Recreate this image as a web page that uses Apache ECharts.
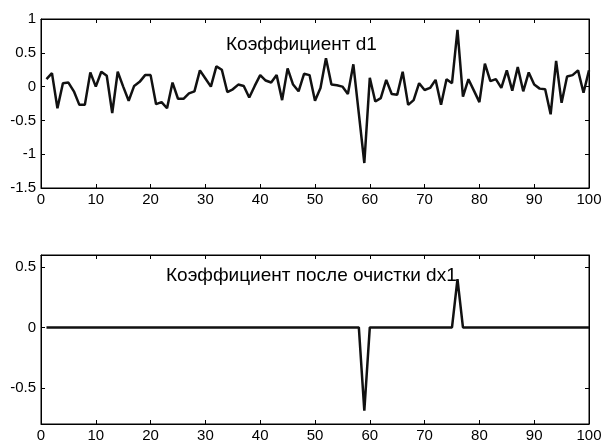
<!DOCTYPE html>
<html>
<head>
<meta charset="utf-8">
<script src="https://cdn.jsdelivr.net/npm/echarts@6/dist/echarts.min.js"></script>
<style>
  html, body { margin: 0; padding: 0; background: #fff; }
  #chart { width: 605px; height: 444px; }
</style>
</head>
<body>
<div id="chart"></div>
<script>
// coefficient d1, samples 1..100
var d1 = [
  0.11, 0.20, -0.32, 0.05, 0.06, -0.07, -0.27, -0.27, 0.21, 0.00,
  0.22, 0.16, -0.39, 0.22, 0.00, -0.21, 0.01, 0.07, 0.17, 0.17,
  -0.26, -0.23, -0.32, 0.06, -0.18, -0.18, -0.10, -0.07, 0.24, 0.12,
  0.00, 0.30, 0.25, -0.08, -0.04, 0.03, 0.01, -0.16, 0.01, 0.17,
  0.09, 0.06, 0.17, -0.20, 0.27, 0.03, -0.07, 0.19, 0.17, -0.21,
  -0.02, 0.42, 0.03, 0.02, 0.00, -0.11, 0.33, -0.40, -1.13, 0.13,
  -0.22, -0.17, 0.10, -0.11, -0.12, 0.22, -0.27, -0.20, 0.05, -0.05,
  -0.02, 0.10, -0.27, 0.11, 0.05, 0.84, -0.15, 0.11, -0.06, -0.23,
  0.34, 0.08, 0.11, -0.02, 0.24, -0.06, 0.29, -0.07, 0.21, 0.03,
  -0.03, -0.04, -0.41, 0.38, -0.24, 0.15, 0.17, 0.24, -0.09, 0.24
];
// coefficient after cleaning dx1
var dx1 = [
  0, 0, 0, 0, 0, 0, 0, 0, 0, 0,
  0, 0, 0, 0, 0, 0, 0, 0, 0, 0,
  0, 0, 0, 0, 0, 0, 0, 0, 0, 0,
  0, 0, 0, 0, 0, 0, 0, 0, 0, 0,
  0, 0, 0, 0, 0, 0, 0, 0, 0, 0,
  0, 0, 0, 0, 0, 0, 0, 0, -0.69, 0,
  0, 0, 0, 0, 0, 0, 0, 0, 0, 0,
  0, 0, 0, 0, 0, 0.40, 0, 0, 0, 0,
  0, 0, 0, 0, 0, 0, 0, 0, 0, 0,
  0, 0, 0, 0, 0, 0, 0, 0, 0, 0
];
var topYTicks = [-1.5, -1, -0.5, 0, 0.5, 1];
var bottomYTicks = [-0.5, 0, 0.5];
var title1 = "Коэффициент d1";
var title2 = "Коэффициент после очистки dx1";

var FONT = "Liberation Sans, Arial, sans-serif";

function pairs(arr) {
  return arr.map(function (v, i) { return [i + 1, v]; });
}

function makeX(grid, pos, labels) {
  return {
    type: "value", gridIndex: grid, position: pos,
    min: 0, max: 100, interval: 10,
    axisLine: { show: true, onZero: false, lineStyle: { color: "#000000", width: 1 } },
    axisTick: { show: true, inside: true, length: 4, lineStyle: { color: "#000000" } },
    axisLabel: { show: labels, color: "#000000", fontSize: 15, fontFamily: FONT, margin: 4 },
    splitLine: { show: false }
  };
}

function makeY(grid, pos, labels, min, max, ticks) {
  return {
    type: "value", gridIndex: grid, position: pos,
    min: min, max: max,
    axisLine: { show: true, onZero: false, lineStyle: { color: "#000000", width: 1 } },
    axisTick: { show: true, inside: true, length: 4, customValues: ticks, lineStyle: { color: "#000000" } },
    axisLabel: { show: labels, color: "#000000", fontSize: 15, fontFamily: FONT, margin: 5, customValues: ticks },
    splitLine: { show: false }
  };
}

var chart = echarts.init(document.getElementById("chart"));
chart.setOption({
  animation: false,
  title: [
    { text: title1, left: 226, top: 35, padding: 0,
      textStyle: { color: "#000000", fontSize: 19, fontWeight: "normal", fontFamily: FONT } },
    { text: title2, left: 166, top: 266, padding: 0,
      textStyle: { color: "#000000", fontSize: 19, fontWeight: "normal", fontFamily: FONT } }
  ],
  grid: [
    { left: 41, top: 19, width: 548, height: 169, show: true, borderColor: "#000000", borderWidth: 1 },
    { left: 41, top: 255, width: 548, height: 169, show: true, borderColor: "#000000", borderWidth: 1 }
  ],
  xAxis: [
    makeX(0, "bottom", true),
    makeX(0, "top", false),
    makeX(1, "bottom", true),
    makeX(1, "top", false)
  ],
  yAxis: [
    makeY(0, "left", true, -1.5, 1, topYTicks),
    makeY(0, "right", false, -1.5, 1, topYTicks),
    makeY(1, "left", true, -0.8, 0.6, bottomYTicks),
    makeY(1, "right", false, -0.8, 0.6, bottomYTicks)
  ],
  series: [
    {
      type: "line", xAxisIndex: 0, yAxisIndex: 0,
      data: pairs(d1), symbol: "none",
      lineStyle: { color: "#111111", width: 2.5 }
    },
    {
      type: "line", xAxisIndex: 2, yAxisIndex: 2,
      data: pairs(dx1), symbol: "none",
      lineStyle: { color: "#111111", width: 2.5 }
    }
  ]
});
</script>
</body>
</html>
